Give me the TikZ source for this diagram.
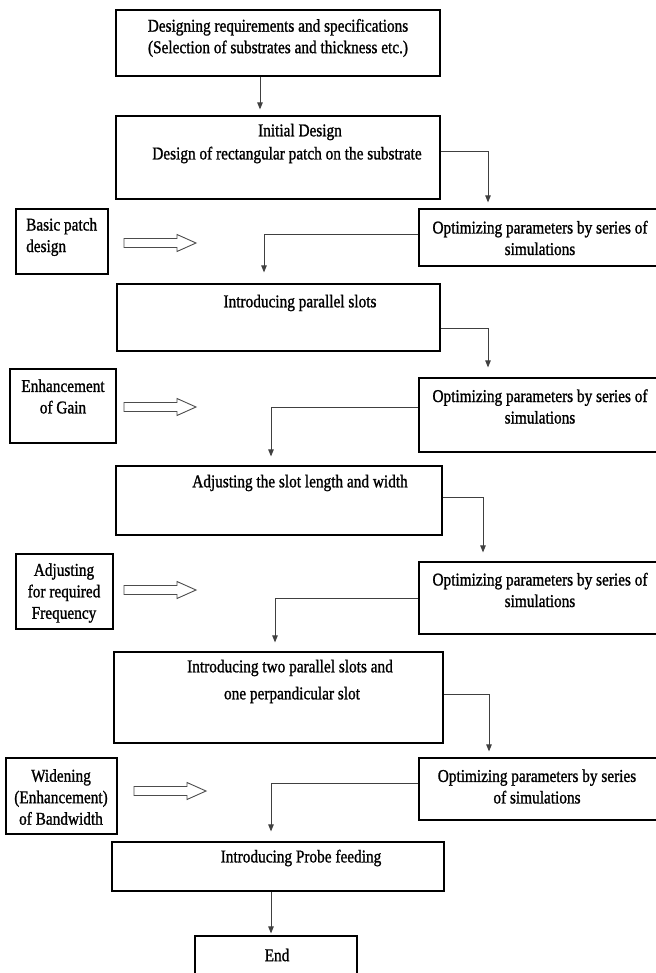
\documentclass[tikz,border=0pt]{standalone}
\usepackage{fontspec}
\setmainfont{Liberation Serif}[FakeStretch=0.85,FakeBold=1.2]
\usetikzlibrary{arrows.meta,fit}
\begin{document}
\begin{tikzpicture}[x=1pt,y=-1pt,
  box/.style={draw=black, line width=1.2pt, inner sep=0pt},
  txt/.style={font=\fontsize{18}{21.5}\selectfont, inner sep=0pt, align=center},
  conn/.style={draw=black!75, line width=0.9pt, -{Triangle[length=7pt,width=5.5pt]}},
  hollow/.style={draw=black!70, line width=0.9pt, fill=white}]
\useasboundingbox (0,0) rectangle (655,973);
% main boxes
\node[box, fit={(116,10) (440,76)}] (b1) {};
\node[box, fit={(116,116) (440,199)}] (b2) {};
\node[box, fit={(117,284) (440,351)}] (b3) {};
\node[box, fit={(116,466) (442,535)}] (b4) {};
\node[box, fit={(114,652) (443,743)}] (b5) {};
\node[box, fit={(112,842) (444,891)}] (b6) {};
\node[box, fit={(195,936) (357,980)}] (b7) {};
% optimizing boxes
\node[box, fit={(419,209) (657,266)}] (o1) {};
\node[box, fit={(419,378) (657,452)}] (o2) {};
\node[box, fit={(419,562) (657,634)}] (o3) {};
\node[box, fit={(419,758) (657,820)}] (o4) {};
% side boxes
\node[box, fit={(16,209) (108,274)}] (p1) {};
\node[box, fit={(10,369) (116,443)}] (p2) {};
\node[box, fit={(16,554) (113,629)}] (p3) {};
\node[box, fit={(6,758) (117,834)}] (p4) {};
% texts
\node[txt] (t1) at (278,38) {Designing requirements and specifications\\(Selection of substrates and thickness etc.)};
\node[txt] (t2a) at (300,132) {Initial Design};
\node[txt] (t2b) at (287,155) {Design of rectangular patch on the substrate};
\node[txt] (to1) at (540,238) {Optimizing parameters by series of\\simulations};
\node[txt, align=left, anchor=west] (tp1) at (26,237) {Basic patch\\design};
\node[txt] (t3) at (300,303) {Introducing parallel slots};
\node[txt] (to2) at (540,406.5) {Optimizing parameters by series of\\simulations};
\node[txt] (tp2) at (63,396.5) {Enhancement\\of Gain};
\node[txt] (t4) at (300,483) {Adjusting the slot length and width};
\node[txt] (to3) at (540,590) {Optimizing parameters by series of\\simulations};
\node[txt] (tp3) at (64,593) {Adjusting\\for required\\Frequency};
\node[txt] (t5a) at (290,668) {Introducing two parallel slots and};
\node[txt] (t5b) at (292,695) {one perpandicular slot};
\node[txt] (to4) at (537,786.5) {Optimizing parameters by series\\of simulations};
\node[txt] (tp4) at (61,797) {Widening\\(Enhancement)\\of Bandwidth};
\node[txt] (t6) at (301,858) {Introducing Probe feeding};
\node[txt] (t7) at (277,955) {End};
% hollow arrows
\foreach \x/\y in {124/243,124/407,124/590,134/791}
  \draw[hollow] (\x,\y-4.5) -- ++(53,0) -- ++(0,-4) -- (\x+72,\y) -- (\x+53,\y+8.5) -- ++(0,-4) -- (\x,\y+4.5) -- cycle;
% connectors
\draw[conn, shorten >=6pt] ([xshift=-18pt]b1.south) -- ([xshift=-18pt]b2.north);
\draw[conn, shorten >=6pt] ([yshift=6.5pt]b2.east) -| ([xshift=-50pt]o1.north);
\draw[conn, shorten >=11pt] ([yshift=3.5pt]o1.west) -| ([xshift=-14.5pt]b3.north);
\draw[conn, shorten >=10pt] ([yshift=-10.5pt]b3.east) -| ([xshift=-50pt]o2.north);
\draw[conn, shorten >=9pt] ([yshift=8pt]o2.west) -| ([xshift=-8pt]b4.north);
\draw[conn, shorten >=9pt] ([yshift=3.5pt]b4.east) -| ([xshift=-55pt]o3.north);
\draw[conn, shorten >=9pt] (o3.west) -| ([xshift=-3.5pt]b5.north);
\draw[conn, shorten >=6pt] ([yshift=3.5pt]b5.east) -| ([xshift=-49pt]o4.north);
\draw[conn, shorten >=10pt] ([yshift=6pt]o4.west) -| ([xshift=-7pt]b6.north);
\draw[conn, shorten >=2pt] ([xshift=-7pt]b6.south) -- ([xshift=-5pt]b7.north);
\end{tikzpicture}
\end{document}
